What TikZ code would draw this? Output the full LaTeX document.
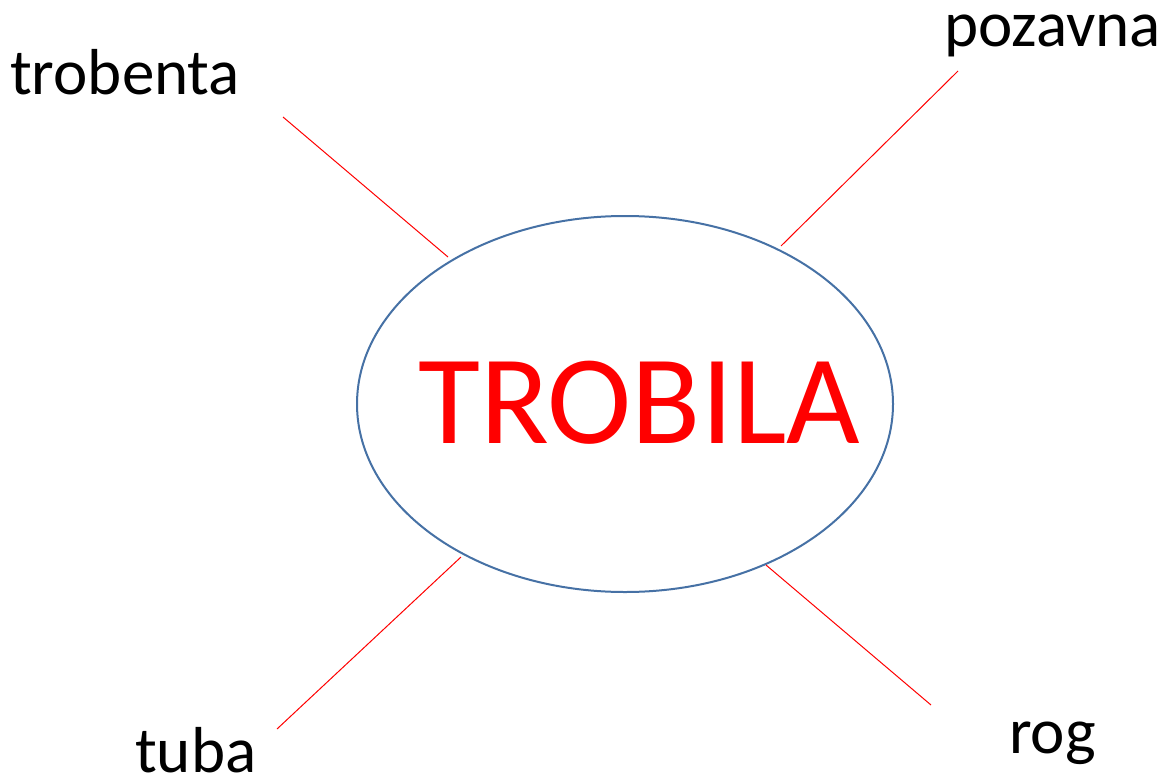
\documentclass[tikz,border=0pt]{standalone}
\usepackage{fontspec}
\setmainfont{Carlito}
\definecolor{ellblue}{RGB}{70,113,165}
\definecolor{linered}{RGB}{255,0,0}
\begin{document}
\begin{tikzpicture}[x=1pt,y=-1pt,
  lbl/.style={anchor=base west,inner sep=0pt,text=black,font=\fontsize{65}{78}\selectfont},
  conn/.style={draw=linered,line width=1pt}]
\useasboundingbox (0,0) rectangle (1166,776);
\draw[ellblue,line width=2pt] (625,404) ellipse [x radius=268pt,y radius=188pt];
\node[anchor=base west,inner sep=0pt,text=linered,font=\fontsize{127}{152}\selectfont] (main) at (418,443) {TROBILA};
\node[lbl] (trobenta) at (10,94) {trobenta};
\node[lbl] (pozavna) at (944,46) {pozavna};
\node[lbl] (tuba) at (135,772) {tuba};
\node[lbl] (rog) at (1009,753) {rog};
\coordinate (a1) at (283,117); \coordinate (a2) at (448,257);
\coordinate (b1) at (958,71);  \coordinate (b2) at (781,246);
\coordinate (c1) at (461,557); \coordinate (c2) at (277,729);
\coordinate (d1) at (766,565); \coordinate (d2) at (931,705);
\draw[conn] (a1) -- (a2);
\draw[conn] (b1) -- (b2);
\draw[conn] (c1) -- (c2);
\draw[conn] (d1) -- (d2);
\end{tikzpicture}
\end{document}
